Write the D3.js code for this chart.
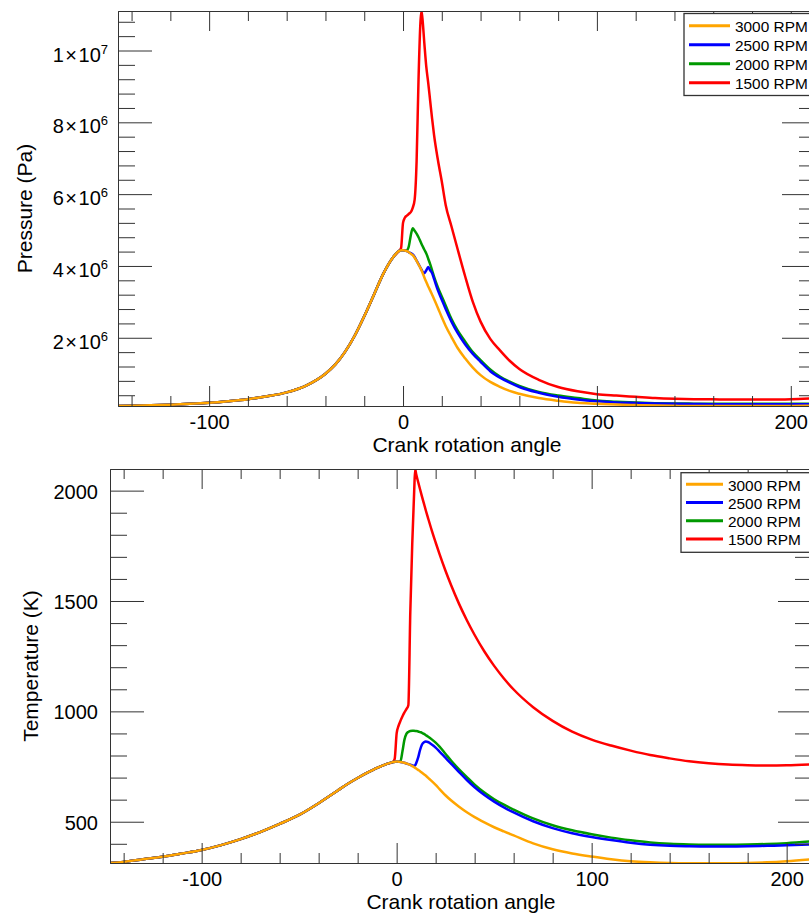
<!DOCTYPE html>
<html>
<head>
<meta charset="utf-8">
<script src="https://cdn.jsdelivr.net/npm/d3@7"></script>
<style>
  html, body { margin: 0; padding: 0; background: #fff; }
  svg { display: block; font-family: "Liberation Sans", Arial, Helvetica, sans-serif; }
</style>
</head>
<body>
<svg id="chart" width="809" height="916"></svg>
<script>
// Crank rotation angle (degrees), shared by every series
const crankAngle = [
  -147, -140, -130, -120, -110, -100, -90, -80, -70, -60, -50,
  -40, -35, -30, -25, -20, -15, -10, -5, -2, -1, 0,
  1, 2, 3, 4, 5, 6, 7, 8, 9, 9.5, 10,
  11, 12, 13, 14, 15, 16, 18, 20, 22, 25, 28,
  32, 36, 40, 45, 50, 55, 60, 70, 80, 90, 100,
  110, 120, 130, 140, 150, 160, 170, 180, 190, 200, 213
];

// Cylinder pressure, MPa
const pressure3000 = [
  0.100, 0.110, 0.120, 0.138, 0.160, 0.190, 0.235, 0.290, 0.370, 0.480, 0.670,
  1.00, 1.25, 1.60, 2.05, 2.60, 3.20, 3.80, 4.25, 4.42, 4.44, 4.44,
  4.43, 4.41, 4.38, 4.34, 4.30, 4.23, 4.14, 4.04, 3.94, 3.88, 3.82,
  3.68, 3.55, 3.43, 3.32, 3.20, 3.08, 2.83, 2.57, 2.33, 2.02, 1.73,
  1.43, 1.17, 0.96, 0.77, 0.635, 0.52, 0.44, 0.32, 0.245, 0.19, 0.165,
  0.14, 0.125, 0.112, 0.105, 0.100, 0.100, 0.100, 0.100, 0.100, 0.102, 0.105
];
const pressure2500 = [
  0.100, 0.110, 0.120, 0.138, 0.160, 0.190, 0.235, 0.290, 0.370, 0.480, 0.670,
  1.00, 1.25, 1.60, 2.05, 2.60, 3.20, 3.80, 4.25, 4.42, 4.44, 4.44,
  4.43, 4.41, 4.38, 4.36, 4.32, 4.25, 4.15, 4.05, 3.95, 3.90, 3.85,
  3.80, 3.88, 3.97, 3.88, 3.80, 3.64, 3.32, 3.06, 2.80, 2.45, 2.15,
  1.82, 1.55, 1.33, 1.07, 0.89, 0.75, 0.63, 0.47, 0.355, 0.28, 0.23,
  0.20, 0.185, 0.172, 0.162, 0.155, 0.150, 0.150, 0.150, 0.150, 0.150, 0.150
];
const pressure2000 = [
  0.100, 0.110, 0.120, 0.138, 0.160, 0.190, 0.235, 0.290, 0.370, 0.480, 0.670,
  1.00, 1.25, 1.60, 2.05, 2.60, 3.20, 3.80, 4.25, 4.42, 4.44, 4.44,
  4.43, 4.44, 4.55, 4.85, 5.05, 4.98, 4.90, 4.80, 4.68, 4.62, 4.56,
  4.45, 4.35, 4.20, 4.05, 3.88, 3.70, 3.40, 3.15, 2.90, 2.52, 2.22,
  1.90, 1.60, 1.38, 1.12, 0.92, 0.78, 0.66, 0.49, 0.39, 0.32, 0.25,
  0.22, 0.195, 0.18, 0.17, 0.165, 0.160, 0.160, 0.160, 0.160, 0.160, 0.165
];
const pressure1500 = [
  0.100, 0.110, 0.120, 0.138, 0.160, 0.190, 0.235, 0.290, 0.370, 0.480, 0.670,
  1.00, 1.25, 1.60, 2.05, 2.60, 3.20, 3.80, 4.25, 4.42, 4.50, 5.20,
  5.35, 5.40, 5.45, 5.50, 5.62, 5.85, 6.90, 9.20, 10.8, 11.1, 10.9,
  10.2, 9.55, 9.10, 8.60, 8.10, 7.65, 6.95, 6.35, 5.70, 5.10, 4.50,
  3.72, 3.00, 2.45, 1.97, 1.65, 1.36, 1.13, 0.83, 0.63, 0.51, 0.43,
  0.39, 0.355, 0.32, 0.30, 0.29, 0.285, 0.28, 0.28, 0.28, 0.29, 0.32
];

// Gas temperature, K
const temperature3000 = [
  313, 318, 330, 341, 356, 372, 394, 421, 453, 490, 531,
  584, 613, 643, 672, 698, 722, 744, 762, 770, 772, 773,
  772, 771, 769, 767, 764, 761, 757, 752, 747, 744, 741,
  735, 729, 722, 715, 708, 700, 684, 667, 648, 620, 596,
  568, 543, 521, 497, 475, 456, 438, 402, 375, 356, 342,
  330, 321, 316, 313, 312, 312, 312, 313, 316, 321, 330
];
const temperature2500 = [
  313, 318, 330, 341, 356, 372, 394, 421, 453, 490, 531,
  584, 613, 643, 672, 698, 722, 744, 762, 770, 772, 773,
  772, 771, 769, 767, 764, 761, 758, 755, 754, 756, 765,
  790, 825, 850, 860, 863, 861, 850, 836, 818, 790, 762,
  725, 689, 656, 621, 591, 565, 542, 502, 471, 448, 431,
  417, 405, 396, 391, 389, 388, 388, 389, 391, 393, 397
];
const temperature2000 = [
  313, 318, 330, 341, 356, 372, 394, 421, 453, 490, 531,
  584, 613, 643, 672, 698, 722, 744, 762, 770, 772, 773,
  772, 776, 820, 872, 898, 907, 911, 912, 912, 911, 911,
  909, 906, 903, 898, 892, 886, 873, 858, 840, 808, 776,
  737, 702, 668, 632, 602, 577, 555, 515, 484, 461, 443,
  428, 416, 406, 400, 397, 396, 396, 397, 399, 403, 411
];
const temperature1500 = [
  313, 318, 330, 341, 356, 372, 394, 421, 453, 490, 531,
  584, 613, 643, 672, 698, 722, 744, 762, 770, 785, 900,
  935, 958, 978, 995, 1010, 1028, 1450, 1760, 2000, 2098, 2075,
  2040, 2006, 1973, 1941, 1909, 1879, 1820, 1765, 1712, 1638, 1570,
  1487, 1413, 1346, 1271, 1206, 1149, 1099, 1019, 957, 908, 872,
  845, 822, 802, 787, 774, 765, 759, 756, 755, 756, 760
];

// Series names and colours (legend order)
const seriesNames = ["3000 RPM", "2500 RPM", "2000 RPM", "1500 RPM"];
const seriesColors = ["#ffa500", "#0000ff", "#009900", "#ff0000"];
const pressureSeries = [pressure3000, pressure2500, pressure2000, pressure1500];
const temperatureSeries = [temperature3000, temperature2500, temperature2000, temperature1500];

// Axis ranges and tick labels
const angleDomain = [-147, 213];
const angleMajorTicks = [-100, 0, 100, 200];
const pressureDomain = [1e5, 1.11e7];
const pressureMajorTicks = [2e6, 4e6, 6e6, 8e6, 1e7];
const pressureTickLabels = [["2", "6"], ["4", "6"], ["6", "6"], ["8", "6"], ["1", "7"]];
const temperatureDomain = [313, 2098];
const temperatureMajorTicks = [500, 1000, 1500, 2000];

const svg = d3.select("#chart");
const defs = svg.append("defs");
const frameColor = "#333";

function styleAxis(g) {
  g.attr("font-family", null).attr("font-size", null);
  g.select(".domain").attr("stroke", frameColor);
  g.selectAll(".tick line").attr("stroke", frameColor);
}

function drawPanel(opt) {
  const x = d3.scaleLinear().domain(angleDomain).range([opt.left, opt.right]);
  const y = d3.scaleLinear().domain(opt.yDomain).range([opt.bottom, opt.top]);
  const g = svg.append("g");

  defs.append("clipPath").attr("id", opt.id + "-clip")
    .append("rect")
    .attr("x", opt.left).attr("y", opt.top)
    .attr("width", opt.right - opt.left).attr("height", opt.bottom - opt.top);

  // curves: 1500 first, 3000 on top
  const line = d3.line()
    .x(d => x(d[0]))
    .y(d => y(d[1]))
    .curve(d3.curveMonotoneX);
  const curves = g.append("g").attr("clip-path", `url(#${opt.id}-clip)`);
  [3, 2, 1, 0].forEach(i => {
    const pts = crankAngle.map((a, k) => [a, opt.series[i][k] * opt.unit]);
    curves.append("path")
      .datum(pts)
      .attr("fill", "none")
      .attr("stroke", seriesColors[i])
      .attr("stroke-width", 2.5)
      .attr("stroke-linejoin", "round")
      .attr("d", line);
  });

  // x axes (bottom with labels, top mirrored), ticks pointing inward
  const xMinor = d3.range(-140, 214, 20).filter(v => v % 100 !== 0);
  const xb = g.append("g").attr("transform", `translate(0,${opt.bottom})`)
    .call(d3.axisBottom(x).tickValues(angleMajorTicks).tickSize(-20).tickSizeOuter(0)
      .tickFormat(d => String(d)));
  styleAxis(xb);
  xb.selectAll("text").attr("y", 23).attr("dy", null)
    .attr("font-size", "20px").attr("fill", "#000");
  const xbm = g.append("g").attr("transform", `translate(0,${opt.bottom})`)
    .call(d3.axisBottom(x).tickValues(xMinor).tickSize(-10).tickSizeOuter(0).tickFormat(""));
  styleAxis(xbm);
  const xt = g.append("g").attr("transform", `translate(0,${opt.top})`)
    .call(d3.axisTop(x).tickValues(angleMajorTicks).tickSize(-20).tickSizeOuter(0).tickFormat(""));
  styleAxis(xt);
  const xtm = g.append("g").attr("transform", `translate(0,${opt.top})`)
    .call(d3.axisTop(x).tickValues(xMinor).tickSize(-10).tickSizeOuter(0).tickFormat(""));
  styleAxis(xtm);

  // y axes (left with labels, right mirrored)
  const yl = g.append("g").attr("transform", `translate(${opt.left},0)`)
    .call(d3.axisLeft(y).tickValues(opt.majorTicks).tickSize(-34).tickSizeOuter(0)
      .tickPadding(opt.labelGap).tickFormat(opt.format));
  styleAxis(yl);
  yl.selectAll("text").attr("dy", opt.labelDy).attr("font-size", "20px").attr("fill", "#000");
  if (opt.decorate) yl.selectAll("text").each(opt.decorate);
  const ylm = g.append("g").attr("transform", `translate(${opt.left},0)`)
    .call(d3.axisLeft(y).tickValues(opt.minorTicks).tickSize(-17).tickSizeOuter(0).tickFormat(""));
  styleAxis(ylm);
  const yr = g.append("g").attr("transform", `translate(${opt.right},0)`)
    .call(d3.axisRight(y).tickValues(opt.majorTicks).tickSize(-34).tickSizeOuter(0).tickFormat(""));
  styleAxis(yr);
  const yrm = g.append("g").attr("transform", `translate(${opt.right},0)`)
    .call(d3.axisRight(y).tickValues(opt.minorTicks).tickSize(-17).tickSizeOuter(0).tickFormat(""));
  styleAxis(yrm);

  // axis titles
  g.append("text")
    .attr("x", (opt.left + opt.right) / 2).attr("y", opt.bottom + 46)
    .attr("text-anchor", "middle").attr("font-size", "21px")
    .text("Crank rotation angle");
  g.append("text")
    .attr("transform", `translate(${opt.yTitleX},${(opt.top + opt.bottom) / 2})rotate(-90)`)
    .attr("text-anchor", "middle").attr("font-size", "21px")
    .text(opt.yTitle);

  // legend
  const lg = g.append("g");
  lg.append("rect")
    .attr("x", opt.legend.x).attr("y", opt.legend.y)
    .attr("width", 140).attr("height", opt.legend.h)
    .attr("fill", "#fff").attr("stroke", frameColor).attr("stroke-width", 1.3);
  seriesNames.forEach((name, i) => {
    const ly = opt.legend.y + opt.legend.first + i * opt.legend.step;
    lg.append("line")
      .attr("x1", opt.legend.x + 5).attr("x2", opt.legend.x + 5 + opt.legend.len)
      .attr("y1", ly).attr("y2", ly)
      .attr("stroke", seriesColors[i]).attr("stroke-width", 3);
    lg.append("text")
      .attr("x", opt.legend.x + 10 + opt.legend.len).attr("y", ly + 6.3)
      .attr("font-size", "15.4px")
      .text(name);
  });
}

drawPanel({
  id: "pressure",
  left: 118, right: 816, top: 11, bottom: 406,
  yDomain: pressureDomain, unit: 1e6,
  series: pressureSeries,
  majorTicks: pressureMajorTicks,
  minorTicks: d3.range(1, 28).filter(k => k % 5 !== 0).map(k => k * 4e5),
  labelGap: 10, labelDy: 10.5,
  format: () => "",
  decorate: function(d, i) {
    const t = d3.select(this);
    const [m, e] = pressureTickLabels[i];
    t.append("tspan").text(m);
    t.append("tspan").attr("dx", 1.5).text("\u00d7");
    t.append("tspan").attr("dx", 1.5).text("10");
    t.append("tspan").attr("dy", -8).attr("font-size", "13px").text(e);
  },
  yTitle: "Pressure (Pa)", yTitleX: 32,
  legend: { x: 684, y: 13.5, h: 82, first: 12.2, step: 19, len: 41 }
});

drawPanel({
  id: "temperature",
  left: 110, right: 812, top: 469, bottom: 863,
  yDomain: temperatureDomain, unit: 1,
  series: temperatureSeries,
  majorTicks: temperatureMajorTicks,
  minorTicks: d3.range(4, 21).filter(k => k % 5 !== 0).map(k => k * 100),
  labelGap: 12, labelDy: 7.5,
  format: d => String(d),
  decorate: null,
  yTitle: "Temperature (K)", yTitleX: 38,
  legend: { x: 681, y: 472.7, h: 79.6, first: 11.6, step: 18.2, len: 37 }
});
</script>
</body>
</html>
